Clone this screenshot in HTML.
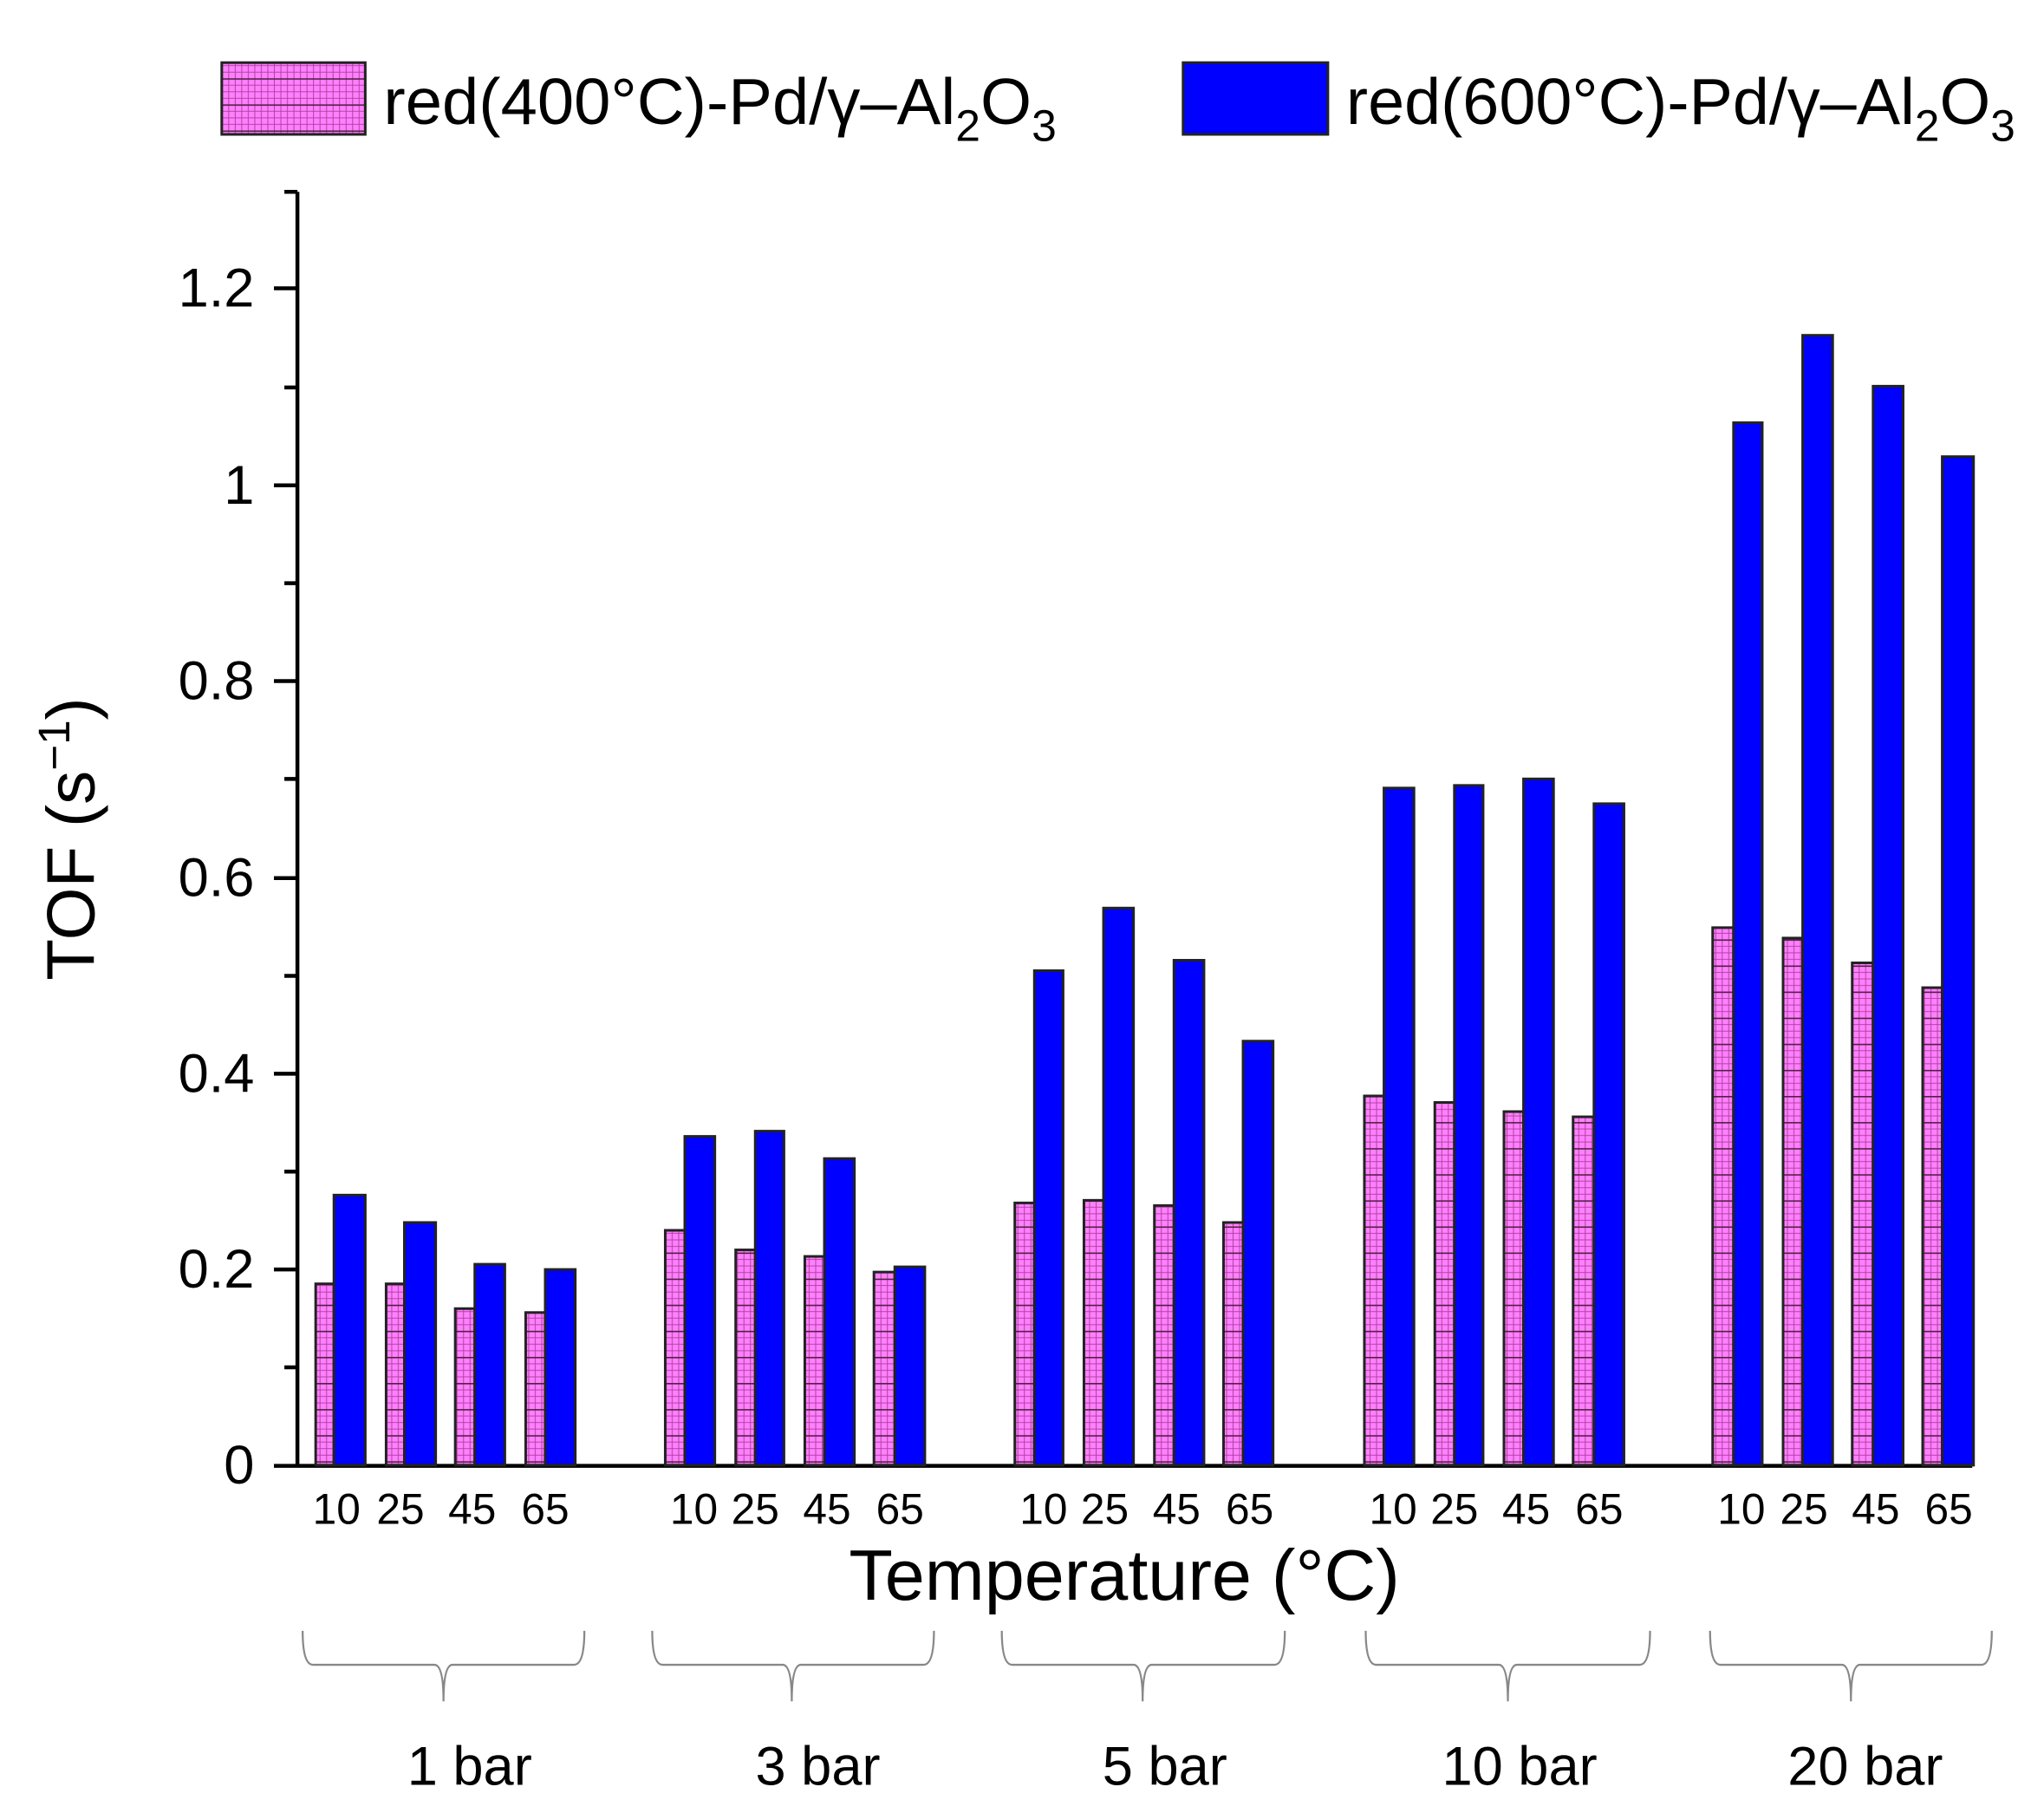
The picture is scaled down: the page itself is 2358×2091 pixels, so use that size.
<!DOCTYPE html>
<html><head><meta charset="utf-8"><style>
html,body{margin:0;padding:0;background:#fff}
svg{display:block}
text{font-family:"Liberation Sans",sans-serif;fill:#000}
</style></head><body>
<svg width="2358" height="2091" viewBox="0 0 1567 1389.6" xmlns="http://www.w3.org/2000/svg">
<defs>
<pattern id="h" width="5" height="5" patternUnits="userSpaceOnUse">
<rect width="5" height="5" fill="#ff80ff"/>
<path d="M0 0.3H5M0.3 0V5" stroke="#b040a0" stroke-width="0.7"/>
</pattern>
<pattern id="h2" width="15" height="20" patternUnits="userSpaceOnUse">
<rect width="15" height="20" fill="url(#h)"/>
<path d="M0 0.5H15" stroke="#502040" stroke-width="1.2"/>
</pattern>
</defs>
<!-- legend -->
<rect x="170" y="48" width="110" height="55" fill="url(#h2)" stroke="#222" stroke-width="2"/>
<text x="294" y="95" font-size="50" textLength="516" lengthAdjust="spacingAndGlyphs">red(400°C)-Pd/γ–Al<tspan font-size="34" dy="13">2</tspan><tspan dy="-13">O</tspan><tspan font-size="34" dy="13">3</tspan></text>
<rect x="907" y="48" width="111" height="55" fill="#0000ff" stroke="#222" stroke-width="2"/>
<text x="1032" y="95" font-size="50" textLength="513" lengthAdjust="spacingAndGlyphs">red(600°C)-Pd/γ–Al<tspan font-size="34" dy="13">2</tspan><tspan dy="-13">O</tspan><tspan font-size="34" dy="13">3</tspan></text>
<!-- axes -->
<g stroke="#000" stroke-width="3" fill="none">
<path d="M228 147V1124.5M210 1123.5H1512"/>
<path d="M210 973H228M210 823H228M210 673H228M210 522H228M210 372H228M210 221H228"/>
<path d="M218 1048H228M218 898H228M218 748H228M218 597H228M218 447H228M218 297H228M218 147H228"/>
</g>
<g font-size="42" text-anchor="end">
<text x="195" y="1137">0</text><text x="195" y="987">0.2</text><text x="195" y="837">0.4</text>
<text x="195" y="687">0.6</text><text x="195" y="536">0.8</text><text x="195" y="386">1</text><text x="195" y="235">1.2</text>
</g>
<text transform="translate(72,643) rotate(-90)" font-size="52" text-anchor="middle">TOF (s<tspan font-size="34" dy="-19">−1</tspan><tspan dy="19">)</tspan></text>
<!-- bars -->
<g stroke="#222" stroke-width="2">
<g fill="url(#h2)">
<rect x="242" y="984" width="14" height="139"/><rect x="296" y="984" width="14" height="139"/><rect x="349" y="1003" width="15" height="120"/><rect x="403" y="1006" width="15" height="117"/>
<rect x="510" y="943" width="15" height="180"/><rect x="564" y="958" width="15" height="165"/><rect x="617" y="963" width="15" height="160"/><rect x="670" y="975" width="16" height="148"/>
<rect x="778" y="922" width="15" height="201"/><rect x="831" y="920" width="15" height="203"/><rect x="885" y="924" width="15" height="199"/><rect x="938" y="937" width="15" height="186"/>
<rect x="1046" y="840" width="15" height="283"/><rect x="1100" y="845" width="15" height="278"/><rect x="1153" y="852" width="15" height="271"/><rect x="1206" y="856" width="16" height="267"/>
<rect x="1313" y="711" width="16" height="412"/><rect x="1367" y="719" width="15" height="404"/><rect x="1420" y="738" width="16" height="385"/><rect x="1474" y="757" width="15" height="366"/>
</g>
<g fill="#0000ff">
<rect x="256" y="916" width="24" height="207"/><rect x="310" y="937" width="24" height="186"/><rect x="364" y="969" width="23" height="154"/><rect x="418" y="973" width="23" height="150"/>
<rect x="525" y="871" width="23" height="252"/><rect x="579" y="867" width="22" height="256"/><rect x="632" y="888" width="23" height="235"/><rect x="686" y="971" width="23" height="152"/>
<rect x="793" y="744" width="22" height="379"/><rect x="846" y="696" width="23" height="427"/><rect x="900" y="736" width="23" height="387"/><rect x="953" y="798" width="23" height="325"/>
<rect x="1061" y="604" width="23" height="519"/><rect x="1115" y="602" width="22" height="521"/><rect x="1168" y="597" width="23" height="526"/><rect x="1222" y="616" width="23" height="507"/>
<rect x="1329" y="324" width="22" height="799"/><rect x="1382" y="257" width="23" height="866"/><rect x="1436" y="296" width="23" height="827"/><rect x="1489" y="350" width="24" height="773"/>
</g>
</g>
<!-- x labels -->
<g font-size="33" text-anchor="middle">
<text x="258" y="1168">10</text><text x="307" y="1168">25</text><text x="362" y="1168">45</text><text x="418" y="1168">65</text>
<text x="532" y="1168">10</text><text x="579" y="1168">25</text><text x="634" y="1168">45</text><text x="690" y="1168">65</text>
<text x="800" y="1168">10</text><text x="847" y="1168">25</text><text x="902" y="1168">45</text><text x="958" y="1168">65</text>
<text x="1068" y="1168">10</text><text x="1115" y="1168">25</text><text x="1170" y="1168">45</text><text x="1226" y="1168">65</text>
<text x="1335" y="1168">10</text><text x="1383" y="1168">25</text><text x="1438" y="1168">45</text><text x="1494" y="1168">65</text>
</g>
<text x="862" y="1226" font-size="55" text-anchor="middle">Temperature (°C)</text>
<!-- braces -->
<g stroke="#888" stroke-width="1.5" fill="none">
<path d="M232 1250q0 26 8 26H333q7 0 7 28q0-28 7-28H440q8 0 8-26"/>
<path d="M500 1250q0 26 8 26H600q7 0 7 28q0-28 7-28H708q8 0 8-26"/>
<path d="M768 1250q0 26 8 26H869q7 0 7 28q0-28 7-28H977q8 0 8-26"/>
<path d="M1047 1250q0 26 8 26H1149q7 0 7 28q0-28 7-28H1257q8 0 8-26"/>
<path d="M1311 1250q0 26 8 26H1412q7 0 7 28q0-28 7-28H1519q8 0 8-26"/>
</g>
<g font-size="42" text-anchor="middle">
<text x="360" y="1368">1 bar</text><text x="627" y="1368">3 bar</text><text x="893" y="1368">5 bar</text>
<text x="1165" y="1368">10 bar</text><text x="1430" y="1368">20 bar</text>
</g>
</svg>
</body></html>
